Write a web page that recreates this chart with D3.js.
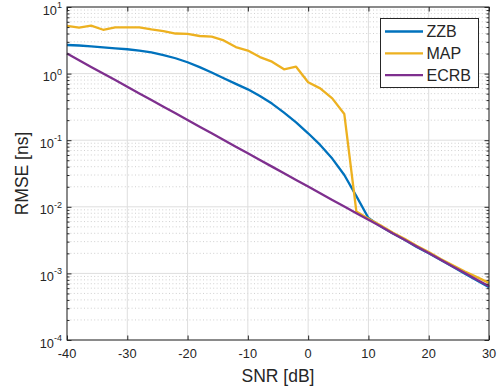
<!DOCTYPE html>
<html>
<head>
<meta charset="utf-8">
<script src="https://cdn.jsdelivr.net/npm/d3@7"></script>
<style>
body { margin: 0; background: #ffffff; }
text { font-family: "Liberation Sans", Arial, Helvetica, sans-serif; fill: #262626; }
</style>
</head>
<body>
<svg id="chart" width="499" height="392"></svg>
<script>
// SNR in dB, every 2 dB
var snr = [-40, -38, -36, -34, -32, -30, -28, -26, -24, -22, -20, -18, -16, -14, -12, -10, -8, -6, -4, -2,
	0, 2, 4, 6, 8, 10, 12, 14, 16, 18, 20, 22, 24, 26, 28, 30];
var zzb = [2.69, 2.64, 2.57, 2.48, 2.40, 2.32, 2.22, 2.08, 1.90, 1.70, 1.48, 1.25, 1.04, 0.85, 0.70, 0.58, 0.46, 0.355, 0.26, 0.185,
	0.127, 0.085, 0.053, 0.030, 0.0145, 0.0068, 0.0051, 0.0040, 0.0032, 0.0025, 0.0020, 0.00159, 0.00126, 0.00099, 0.00078, 0.00062];
var map = [5.2, 4.9, 5.25, 4.55, 4.95, 4.95, 4.95, 4.6, 4.35, 4.0, 3.95, 3.67, 3.58, 3.15, 2.5, 2.22, 1.77, 1.51, 1.16, 1.27,
	0.74, 0.60, 0.425, 0.247, 0.0085, 0.0066, 0.0053, 0.0041, 0.0033, 0.0026, 0.0021, 0.00165, 0.00133, 0.00107, 0.00088, 0.00072];
var ecrb = [2.00, 1.59, 1.26, 1.00, 0.80, 0.634, 0.504, 0.400, 0.318, 0.253, 0.201, 0.159, 0.127, 0.101, 0.080, 0.0636, 0.0505, 0.0401, 0.0319, 0.0253,
	0.0201, 0.0160, 0.0127, 0.0101, 0.0080, 0.0064, 0.0051, 0.0040, 0.0032, 0.00254, 0.00202, 0.00160, 0.00127, 0.00101, 0.00080, 0.00064];
var seriesNames = ["ZZB", "MAP", "ECRB"];
var seriesColors = ["#0072bd", "#edb120", "#7e2f8e"];
var xTicks = [-40, -30, -20, -10, 0, 10, 20, 30];
var yTickExps = [-4, -3, -2, -1, 0, 1];

var pLeft = 67, pRight = 489, pTop = 7, pBottom = 340;
var svg = d3.select("#chart");
svg.append("rect").attr("width", 499).attr("height", 392).attr("fill", "#ffffff");

var x = d3.scaleLinear().domain([-40, 30]).range([pLeft, pRight]);
var y = d3.scaleLog().domain([1e-4, 10]).range([pBottom, pTop]);

// minor values of the log axis (2..9 in each decade)
var yMinor = [];
yTickExps.slice(0, -1).forEach(function (e) {
	for (var k = 2; k < 10; k++) yMinor.push(k * Math.pow(10, e));
});

var grid = svg.append("g");
grid.selectAll("line.minor").data(yMinor).enter().append("line").attr("class", "minor")
	.attr("x1", pLeft).attr("x2", pRight).attr("y1", function (d) { return y(d); }).attr("y2", function (d) { return y(d); })
	.attr("stroke", "#c4c4c4").attr("stroke-width", 0.8).attr("stroke-dasharray", "1,2.4");
grid.selectAll("line.ymaj").data(yTickExps).enter().append("line").attr("class", "ymaj")
	.attr("x1", pLeft).attr("x2", pRight).attr("y1", function (d) { return y(Math.pow(10, d)); }).attr("y2", function (d) { return y(Math.pow(10, d)); })
	.attr("stroke", "#dedede").attr("stroke-width", 1);
grid.selectAll("line.xmaj").data(xTicks).enter().append("line").attr("class", "xmaj")
	.attr("y1", pTop).attr("y2", pBottom).attr("x1", function (d) { return x(d); }).attr("x2", function (d) { return x(d); })
	.attr("stroke", "#dedede").attr("stroke-width", 1);

// curves
var line = d3.line().x(function (d) { return x(d[0]); }).y(function (d) { return y(d[1]); });
var allSeries = [zzb, map, ecrb];
var plot = svg.append("g");
allSeries.forEach(function (vals, i) {
	plot.append("path").datum(d3.zip(snr, vals)).attr("d", line).attr("fill", "none")
		.attr("stroke", seriesColors[i]).attr("stroke-width", 2.3).attr("stroke-linejoin", "round");
});

// axes, ticks pointing inward on all four sides
function styleAxis(g) {
	g.select(".domain").remove();
	g.selectAll(".tick line").attr("stroke", "#262626");
	g.selectAll("text").remove();
}
var yVals = yTickExps.map(function (e) { return Math.pow(10, e); });
svg.append("g").attr("transform", "translate(0," + pBottom + ")")
	.call(d3.axisBottom(x).tickValues(xTicks).tickSize(-4.5).tickFormat("")).call(styleAxis);
svg.append("g").attr("transform", "translate(0," + pTop + ")")
	.call(d3.axisTop(x).tickValues(xTicks).tickSize(-4.5).tickFormat("")).call(styleAxis);
svg.append("g").attr("transform", "translate(" + pLeft + ",0)")
	.call(d3.axisLeft(y).tickValues(yVals).tickSize(-4.5).tickFormat("")).call(styleAxis);
svg.append("g").attr("transform", "translate(" + pRight + ",0)")
	.call(d3.axisRight(y).tickValues(yVals).tickSize(-4.5).tickFormat("")).call(styleAxis);
svg.append("g").attr("transform", "translate(" + pLeft + ",0)")
	.call(d3.axisLeft(y).tickValues(yMinor).tickSize(-2.5).tickFormat("")).call(styleAxis);
svg.append("g").attr("transform", "translate(" + pRight + ",0)")
	.call(d3.axisRight(y).tickValues(yMinor).tickSize(-2.5).tickFormat("")).call(styleAxis);

svg.append("rect").attr("x", pLeft).attr("y", pTop).attr("width", pRight - pLeft).attr("height", pBottom - pTop)
	.attr("fill", "none").attr("stroke", "#262626").attr("stroke-width", 1);

// tick labels
svg.append("g").selectAll("text").data(xTicks).enter().append("text")
	.attr("x", function (d) { return x(d); }).attr("y", pBottom + 17.5)
	.attr("text-anchor", "middle").attr("font-size", "12.8px").text(function (d) { return d; });
var yLab = svg.append("g").selectAll("text").data(yTickExps).enter().append("text")
	.attr("x", 62).attr("y", function (d) { return y(Math.pow(10, d)) + 7.5; })
	.attr("text-anchor", "end").attr("font-size", "12.8px");
yLab.append("tspan").text("10");
yLab.append("tspan").attr("dy", -6.5).attr("font-size", "9px").text(function (d) { return d; });

// axis titles
svg.append("text").attr("x", (pLeft + pRight) / 2).attr("y", 381.5).attr("text-anchor", "middle")
	.attr("font-size", "17.5px").text("SNR [dB]");
svg.append("text").attr("transform", "translate(28," + (pTop + pBottom) / 2 + ") rotate(-90)")
	.attr("text-anchor", "middle").attr("font-size", "17.5px").text("RMSE [ns]");

// legend
var legend = svg.append("g");
legend.append("rect").attr("x", 380.5).attr("y", 18.5).attr("width", 98).attr("height", 69)
	.attr("fill", "#ffffff").attr("stroke", "#262626").attr("stroke-width", 1);
seriesNames.forEach(function (name, i) {
	var ry = 31.5 + i * 21.8;
	legend.append("line").attr("x1", 385).attr("x2", 423).attr("y1", ry).attr("y2", ry)
		.attr("stroke", seriesColors[i]).attr("stroke-width", 2.3);
	legend.append("text").attr("x", 426.5).attr("y", ry + 5.8).attr("font-size", "16px").text(name);
});
</script>
</body>
</html>
